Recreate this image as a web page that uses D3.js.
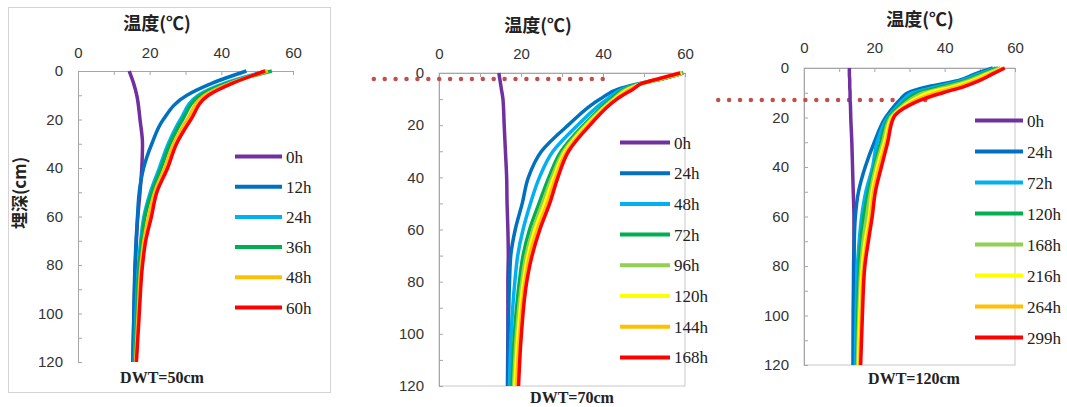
<!DOCTYPE html>
<html>
<head>
<meta charset="utf-8">
<script src="https://cdn.jsdelivr.net/npm/d3@7"></script>
<style>
  body { margin: 0; background: #fff; }
  svg { display: block; }
  .tick text { font-family: "Liberation Sans", Arial, sans-serif; font-size: 15px; fill: #333; }
  .tick line { stroke: #a6a6a6; }
  .domain { stroke: #a6a6a6; }
</style>
</head>
<body>
<script>
// hour labels and colours of the series
var hours1 = ["0h", "12h", "24h", "36h", "48h", "60h"];
var hours2 = ["0h", "24h", "48h", "72h", "96h", "120h", "144h", "168h"];
var hours3 = ["0h", "24h", "72h", "120h", "168h", "216h", "264h", "299h"];
var colors6 = ["#7030a0", "#0070c0", "#00b0f0", "#00b050", "#ffc000", "#ff0000"];
var colors8 = ["#7030a0", "#0070c0", "#00b0f0", "#00b050", "#92d050", "#ffff00", "#ffc000", "#ff0000"];

// axis ticks
var tempTicks = [0, 10, 20, 30, 40, 50, 60];
var depthTicks = [0, 10, 20, 30, 40, 50, 60, 70, 80, 90, 100, 110, 120];

// DWT = 50cm : depth (cm) and temperature (C) per hour
var depth1 = [0, 5, 10, 20, 30, 40, 50, 60, 70, 80, 100, 120];
var temp1 = [
  [14.3, 15.5, 16.4, 17.3, 18.0, 17.8, 17.3, 16.7, 16.3, 16.0, 15.6, 15.3],
  [47.0, 37.5, 30.4, 23.8, 20.6, 18.3, 17.1, 16.6, 16.2, 15.9, 15.6, 15.3],
  [52.5, 41.0, 33.6, 28.6, 25.2, 22.7, 20.2, 18.4, 17.5, 16.9, 16.2, 15.7],
  [54.1, 41.8, 34.2, 29.2, 25.7, 23.2, 20.6, 18.7, 17.8, 17.1, 16.4, 15.9],
  [53.0, 42.6, 35.4, 30.5, 26.7, 24.2, 21.4, 19.7, 18.4, 17.6, 16.8, 16.1],
  [52.2, 43.2, 36.4, 31.5, 27.5, 25.0, 22.0, 20.5, 18.9, 18.0, 17.1, 16.3]
];

// DWT = 70cm
var depth2 = [0, 2, 4, 6, 10, 20, 30, 40, 50, 60, 70, 80, 100, 120];
var temp2 = [
  [14.6, 14.8, 15.0, 15.2, 15.6, 15.9, 16.2, 16.5, 16.6, 16.8, 16.9, 16.8, 16.8, 16.7],
  [59.3, 55.0, 49.0, 44.0, 39.3, 31.5, 25.0, 21.8, 20.3, 18.6, 17.5, 17.2, 16.9, 16.8],
  [59.6, 55.0, 49.3, 45.0, 41.0, 33.8, 27.8, 24.5, 22.3, 20.5, 19.2, 18.5, 17.6, 17.2],
  [59.5, 55.0, 49.5, 45.5, 42.0, 35.3, 29.8, 26.8, 24.4, 22.1, 20.5, 19.6, 18.4, 17.8],
  [59.4, 54.8, 49.6, 46.0, 42.5, 35.7, 30.4, 27.5, 25.2, 22.9, 21.2, 20.2, 18.9, 18.2],
  [59.2, 54.6, 49.6, 46.5, 42.8, 36.0, 30.8, 28.0, 25.8, 23.4, 21.7, 20.6, 19.3, 18.5],
  [59.0, 54.3, 49.6, 47.0, 43.1, 36.4, 31.2, 28.5, 26.4, 24.0, 22.1, 21.0, 19.7, 18.9],
  [58.8, 54.0, 49.5, 47.5, 43.4, 36.8, 31.6, 29.0, 27.0, 24.6, 22.7, 21.4, 20.1, 19.4]
];

// DWT = 120cm
var depth3 = [0, 2.5, 5, 7.5, 10, 12.5, 15, 20, 30, 40, 50, 60, 70, 80, 100, 120];
var temp3 = [
  [12.9, 12.9, 13.0, 13.0, 13.1, 13.1, 13.2, 13.3, 13.6, 13.8, 14.0, 14.2, 14.2, 14.1, 14.0, 14.0],
  [53.7, 48.5, 44.0, 35.5, 29.5, 27.5, 25.9, 23.2, 20.0, 17.4, 15.5, 14.6, 14.3, 14.2, 14.1, 14.0],
  [54.5, 49.5, 45.0, 38.0, 31.0, 28.5, 26.8, 23.8, 20.8, 19.5, 17.6, 16.4, 15.7, 15.2, 14.8, 14.6],
  [55.2, 50.5, 46.0, 39.5, 32.5, 29.5, 27.5, 24.2, 21.8, 20.0, 18.3, 17.0, 16.2, 15.7, 15.3, 15.0],
  [55.8, 51.3, 47.0, 41.0, 34.0, 30.5, 28.2, 24.6, 22.4, 20.4, 18.9, 17.8, 16.8, 16.2, 15.6, 15.2],
  [56.5, 52.0, 48.0, 42.5, 35.5, 31.5, 28.8, 25.0, 22.9, 20.9, 19.4, 18.6, 17.4, 16.6, 15.9, 15.5],
  [56.8, 52.8, 49.0, 44.0, 37.5, 32.7, 29.4, 25.3, 23.4, 21.4, 19.8, 19.0, 17.9, 17.0, 16.3, 15.8],
  [57.1, 53.5, 50.0, 45.5, 39.5, 34.0, 30.0, 25.5, 23.8, 22.0, 20.3, 19.4, 18.3, 17.3, 16.6, 16.1]
];

// red dotted marker lines: depth and temperature extent
var dotDepth2 = 2.3, dotExtent2 = [-15.9, 40.2];
var dotDepth3 = 12.9, dotExtent3 = [-24.4, 35.2];

var svg = d3.select("body").append("svg")
  .attr("width", 1067)
  .attr("height", 407);

// light frame around the first chart
svg.append("rect")
  .attr("x", 8.5).attr("y", 7.5)
  .attr("width", 322).attr("height", 385)
  .attr("fill", "none")
  .attr("stroke", "#d4d4d4");

function drawPanel(p) {
  var x = d3.scaleLinear().domain([0, 60]).range([p.left, p.right]);
  var y = d3.scaleLinear().domain([0, 120]).range([p.top, p.bottom]);
  var g = svg.append("g");

  if (p.box) {
    g.append("rect")
      .attr("x", p.left).attr("y", p.top)
      .attr("width", p.right - p.left).attr("height", p.bottom - p.top)
      .attr("fill", "none")
      .attr("stroke", "#c8c8c8");
  }

  var xAxis = d3.axisTop(x)
    .tickValues(tempTicks)
    .tickSizeInner(-4).tickSizeOuter(0)
    .tickPadding(p.xPad)
    .tickFormat(function(d){ return d % 20 === 0 ? d : ""; });
  g.append("g")
    .attr("transform", "translate(0," + p.top + ")")
    .call(xAxis);

  var yAxis = d3.axisLeft(y)
    .tickValues(depthTicks)
    .tickSizeInner(-4).tickSizeOuter(0)
    .tickPadding(15)
    .tickFormat(function(d){ return d % 20 === 0 ? d : ""; });
  g.append("g")
    .attr("transform", "translate(" + p.left + ",0)")
    .call(yAxis);

  // dotted water line
  if (p.dot) {
    g.append("line")
      .attr("x1", x(p.dot.ext[0])).attr("x2", x(p.dot.ext[1]))
      .attr("y1", y(p.dot.depth)).attr("y2", y(p.dot.depth))
      .attr("stroke", "#c0504d")
      .attr("stroke-width", 4.5)
      .attr("stroke-linecap", "round")
      .attr("stroke-dasharray", "0 10.9");
  }

  var line = d3.line()
    .x(function(d){ return x(d[0]); })
    .y(function(d){ return y(d[1]); })
    .curve(d3.curveMonotoneY);

  g.selectAll(".curve")
    .data(p.temps)
    .enter()
    .append("path")
    .attr("class", "curve")
    .attr("fill", "none")
    .attr("stroke", function(d, i){ return p.colors[i]; })
    .attr("stroke-width", 3.5)
    .attr("d", function(d){
      return line(d.map(function(t, j){ return [t, p.depths[j]]; }));
    });

  // title
  g.append("text")
    .attr("x", p.titleX).attr("y", p.titleY)
    .attr("text-anchor", "middle")
    .style("font-family", "'Noto Sans CJK SC', sans-serif")
    .style("font-weight", "bold")
    .style("font-size", "18px")
    .style("fill", "#222")
    .text("温度(℃)");

  g.append("text")
    .attr("x", p.dwtX).attr("y", p.dwtY)
    .attr("text-anchor", "middle")
    .style("font-family", "'Liberation Serif', serif")
    .style("font-weight", "bold")
    .style("font-size", "16px")
    .style("fill", "#222")
    .text(p.dwt);

  // legend
  var leg = g.selectAll(".leg")
    .data(p.hours)
    .enter()
    .append("g")
    .attr("transform", function(d, i){
      return "translate(" + p.legX + "," + (p.legY + i * p.legStep) + ")";
    });
  leg.append("line")
    .attr("x1", 0).attr("x2", p.legW)
    .attr("stroke", function(d, i){ return p.colors[i]; })
    .attr("stroke-width", 4);
  leg.append("text")
    .attr("x", p.legW + 4)
    .attr("y", 6)
    .style("font-family", "'Liberation Serif', serif")
    .style("font-size", "17px")
    .style("fill", "#222")
    .text(function(d){ return d; });
}

drawPanel({
  left: 78, right: 293, top: 71, bottom: 362, xPad: 13, box: false,
  depths: depth1, temps: temp1, hours: hours1, colors: colors6,
  titleX: 157, titleY: 30, dwt: "DWT=50cm", dwtX: 162, dwtY: 383,
  legX: 235, legW: 47, legY: 156.5, legStep: 30.2
});
drawPanel({
  left: 439, right: 685, top: 73, bottom: 386, xPad: 14, box: true,
  depths: depth2, temps: temp2, hours: hours2, colors: colors8,
  dot: { depth: dotDepth2, ext: dotExtent2 },
  titleX: 538, titleY: 32, dwt: "DWT=70cm", dwtX: 572, dwtY: 403,
  legX: 620, legW: 50, legY: 142.5, legStep: 30.7
});
drawPanel({
  left: 804, right: 1015, top: 68, bottom: 365, xPad: 15, box: true,
  depths: depth3, temps: temp3, hours: hours3, colors: colors8,
  dot: { depth: dotDepth3, ext: dotExtent3 },
  titleX: 920, titleY: 26, dwt: "DWT=120cm", dwtX: 914, dwtY: 384,
  legX: 975, legW: 48, legY: 120.5, legStep: 31
});

// y axis title of the first chart
svg.append("text")
  .attr("transform", "translate(26,193) rotate(-90)")
  .attr("text-anchor", "middle")
  .style("font-family", "'Noto Sans CJK SC', sans-serif")
  .style("font-weight", "bold")
  .style("font-size", "17px")
  .style("fill", "#222")
  .text("埋深(cm)");
</script>
</body>
</html>
